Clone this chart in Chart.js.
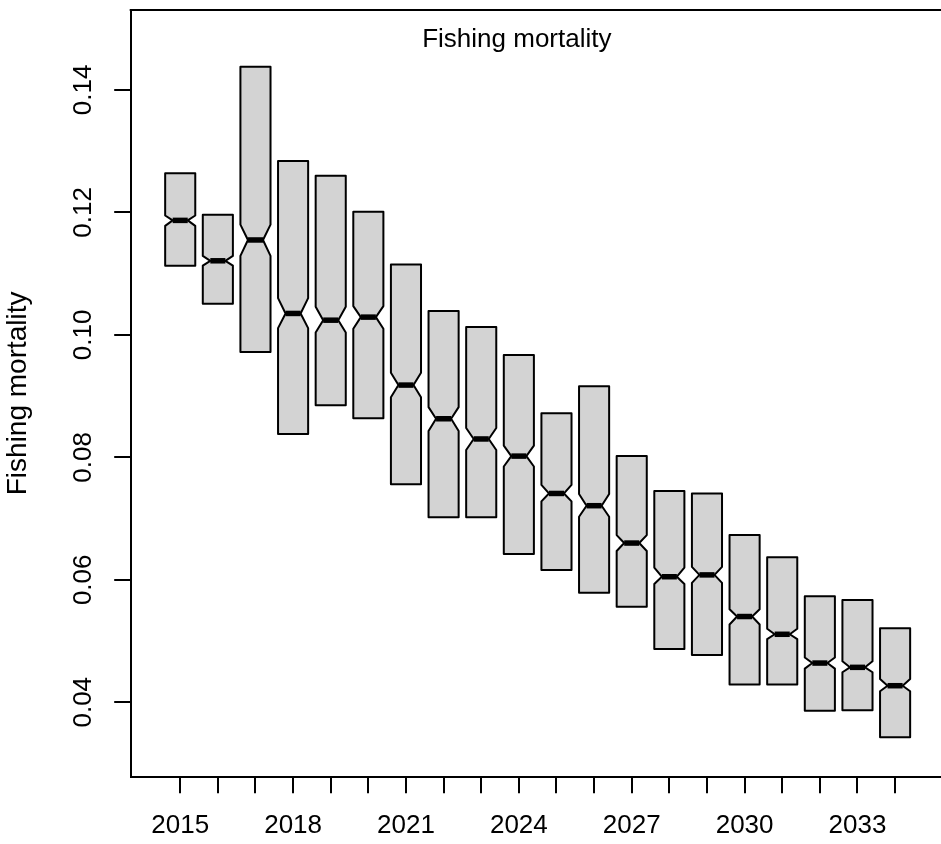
<!DOCTYPE html>
<html>
<head>
<meta charset="utf-8">
<script src="https://cdn.jsdelivr.net/npm/chart.js@4.4.0/dist/chart.umd.min.js"></script>
<style>
    html, body { margin: 0; padding: 0; background: #fff; overflow: hidden; }
    #wrap { width: 941px; height: 844px; position: relative; }
</style>
</head>
<body>
<div id="wrap"><canvas id="grafico-f"></canvas></div>
<script>
// --- Data ---
const anos = [2015, 2016, 2017, 2018, 2019, 2020, 2021, 2022, 2023, 2024,
              2025, 2026, 2027, 2028, 2029, 2030, 2031, 2032, 2033, 2034];
const caixaTopo = [0.1264, 0.1196, 0.1438, 0.1284, 0.1260, 0.1201, 0.1115, 0.1039, 0.1013, 0.0967,
                   0.0872, 0.0916, 0.0802, 0.0745, 0.0741, 0.0673, 0.0637, 0.0573, 0.0567, 0.0521];
const notchAlto = [0.1195, 0.1129, 0.1180, 0.1060, 0.1046, 0.1047, 0.0938, 0.0882, 0.0848, 0.0819,
                   0.0755, 0.0740, 0.0673, 0.0620, 0.0621, 0.0552, 0.0520, 0.0473, 0.0467, 0.0438];
const mediana = [0.1187, 0.1121, 0.1155, 0.1035, 0.1024, 0.1029, 0.0918, 0.0863, 0.0830, 0.0802,
                 0.0741, 0.0721, 0.0660, 0.0605, 0.0608, 0.0540, 0.0511, 0.0464, 0.0457, 0.0427];
const notchBaixo = [0.1178, 0.1113, 0.1129, 0.1011, 0.1004, 0.1010, 0.0898, 0.0843, 0.0812, 0.0785,
                    0.0728, 0.0703, 0.0647, 0.0593, 0.0595, 0.0527, 0.0503, 0.0455, 0.0449, 0.0418];
const caixaBase = [0.1113, 0.1051, 0.0972, 0.0838, 0.0885, 0.0864, 0.0756, 0.0702, 0.0702, 0.0642,
                   0.0616, 0.0579, 0.0556, 0.0487, 0.0477, 0.0429, 0.0429, 0.0386, 0.0387, 0.0343];
const ticksY = [0.04, 0.06, 0.08, 0.10, 0.12, 0.14];
const anosComRotulo = [2015, 2018, 2021, 2024, 2027, 2030, 2033];
const titulo = 'Fishing mortality';
const tituloEixoY = 'Fishing mortality';

const FONTE = "'Liberation Sans', Arial, Helvetica, sans-serif";
Chart.defaults.font.family = FONTE;
Chart.defaults.color = '#000';

// draws the notched boxes (no whiskers), the top frame line and the inner title
const caixasPlugin = {
    id: 'caixas',
    beforeDatasetsDraw(chart) {
        const { ctx, scales: { x, y } } = chart;
        ctx.save();
        anos.forEach((ano, i) => {
            const xl = x.getPixelForValue(ano - 0.4);
            const xr = x.getPixelForValue(ano + 0.4);
            const nl = x.getPixelForValue(ano - 0.2);
            const nr = x.getPixelForValue(ano + 0.2);
            const yt = y.getPixelForValue(caixaTopo[i]);
            const yh = y.getPixelForValue(notchAlto[i]);
            const ym = y.getPixelForValue(mediana[i]);
            const yl = y.getPixelForValue(notchBaixo[i]);
            const yb = y.getPixelForValue(caixaBase[i]);

            ctx.beginPath();
            ctx.moveTo(xl, yt);
            ctx.lineTo(xl, yh);
            ctx.lineTo(nl, ym);
            ctx.lineTo(xl, yl);
            ctx.lineTo(xl, yb);
            ctx.lineTo(xr, yb);
            ctx.lineTo(xr, yl);
            ctx.lineTo(nr, ym);
            ctx.lineTo(xr, yh);
            ctx.lineTo(xr, yt);
            ctx.closePath();
            ctx.fillStyle = '#d3d3d3';
            ctx.fill();
            ctx.lineWidth = 2;
            ctx.lineJoin = 'round';
            ctx.strokeStyle = '#000';
            ctx.stroke();

            // median
            ctx.beginPath();
            ctx.lineWidth = 5.5;
            ctx.lineCap = 'butt';
            ctx.moveTo(nl, ym);
            ctx.lineTo(nr, ym);
            ctx.stroke();
        });
        ctx.restore();
    },
    afterDraw(chart) {
        const { ctx, chartArea: a, scales: { x } } = chart;
        ctx.save();
        ctx.strokeStyle = '#000';
        ctx.lineWidth = 2;
        ctx.beginPath();
        ctx.moveTo(a.left - 1, a.top);
        ctx.lineTo(a.right, a.top);
        ctx.stroke();

        ctx.fillStyle = '#000';
        ctx.font = '26px ' + FONTE;
        ctx.textAlign = 'center';
        ctx.textBaseline = 'alphabetic';
        ctx.fillText(titulo, x.getPixelForValue(2024) - 2, a.top + 36.7);
        ctx.restore();
    }
};

const ctx = document.getElementById('grafico-f').getContext('2d');
new Chart(ctx, {
    type: 'scatter',
    data: {
        datasets: [{
            label: titulo,
            data: anos.map((ano, i) => ({ x: ano, y: mediana[i] })),
            pointRadius: 0,
            showLine: false
        }]
    },
    options: {
        responsive: true,
        maintainAspectRatio: false,
        animation: false,
        events: [],
        layout: { padding: { top: 10, left: 0, right: 0, bottom: 0 } },
        plugins: {
            legend: { display: false },
            tooltip: { enabled: false }
        },
        scales: {
            x: {
                type: 'linear',
                min: 2013.684,
                max: 2035.22,
                afterBuildTicks: (s) => { s.ticks = anos.map(v => ({ value: v })); },
                afterFit: (s) => { s.height = 67.3; s.paddingLeft = 0; s.paddingRight = 0; },
                ticks: {
                    autoSkip: false,
                    minRotation: 0,
                    maxRotation: 0,
                    padding: 17,
                    font: { size: 26 },
                    callback: (v) => anosComRotulo.includes(v) ? String(v) : ''
                },
                grid: {
                    drawOnChartArea: false,
                    drawTicks: true,
                    tickLength: 16.5,
                    color: '#000',
                    lineWidth: 2
                },
                border: { color: '#000', width: 2 }
            },
            y: {
                type: 'linear',
                min: 0.02784,
                max: 0.15306,
                afterBuildTicks: (s) => { s.ticks = ticksY.map(v => ({ value: v })); },
                afterFit: (s) => { s.width = 130.7; s.paddingTop = 0; s.paddingBottom = 0; },
                ticks: {
                    minRotation: 90,
                    maxRotation: 90,
                    crossAlign: 'center',
                    padding: 5.2,
                    font: { size: 26 },
                    callback: (v) => v.toFixed(2)
                },
                grid: {
                    drawOnChartArea: false,
                    drawTicks: true,
                    tickLength: 16.5,
                    color: '#000',
                    lineWidth: 2
                },
                border: { color: '#000', width: 2 },
                title: {
                    display: true,
                    text: tituloEixoY,
                    font: { size: 28 },
                    padding: { top: 1.5, bottom: 0 }
                }
            }
        }
    },
    plugins: [caixasPlugin]
});
</script>
</body>
</html>
